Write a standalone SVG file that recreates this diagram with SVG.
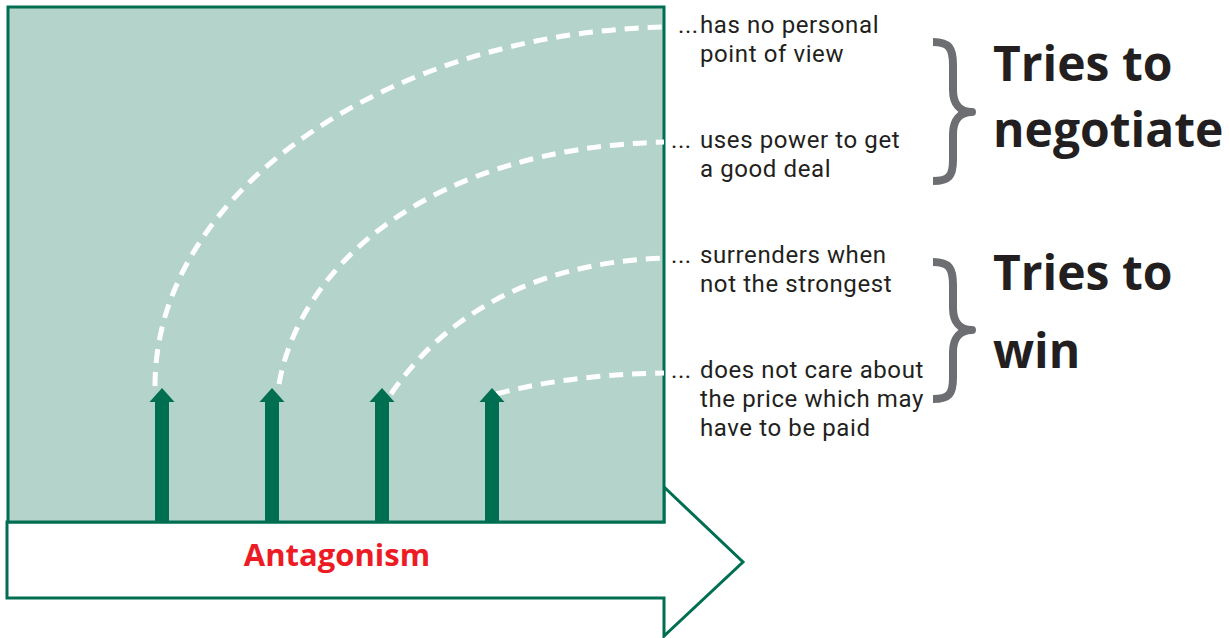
<svg xmlns="http://www.w3.org/2000/svg" width="1230" height="638" viewBox="0 0 1230 638">
  <defs>
    <style>
      .panel { fill: #b4d3ca; stroke: #006f51; stroke-width: 3; }
      .axis { fill: #ffffff; stroke: #006f51; stroke-width: 3; stroke-linejoin: miter; }
      .up { fill: #006f51; }
      .path { fill: none; stroke: #ffffff; stroke-width: 5; stroke-dasharray: 14 9; }
      .note { font-family: Roboto, "Liberation Sans", sans-serif; font-size: 24px; letter-spacing: 0.6px; fill: #231f20; }
      .big { font-family: "Open Sans", "Liberation Sans", sans-serif; font-size: 48px; font-weight: bold; fill: #231f20; }
      .brace { fill: none; stroke: #6d6e71; stroke-width: 8; stroke-linecap: butt; stroke-linejoin: round; }
      .label { font-family: "Open Sans", "Liberation Sans", sans-serif; font-size: 31px; font-weight: bold; fill: #ed1c24; }
    </style>
    <!-- vertical push arrow: shaft plus head, tip at origin -->
    <path id="upArrow" class="up" d="M-7,14 L-12.5,14 L0,0 L12.5,14 L7,14 L7,134 L-7,134 Z"/>
  </defs>

  <!-- horizontal axis arrow -->
  <g id="axis">
    <polygon class="axis" points="7,522 664,522 664,487 743,562 664,636 664,598 7,598"/>
    <text class="label" x="337" y="566" text-anchor="middle">Antagonism</text>
  </g>

  <!-- shaded field -->
  <g id="field">
    <rect class="panel" x="8" y="7" width="656" height="515"/>
  </g>

  <!-- dashed connectors from arrows to the statements -->
  <g id="connectors">
    <path class="path" d="M155,386 C155,190 390,33 664,27"/>
    <path class="path" d="M279,384 C300,265 430,148 664,142"/>
    <path class="path" d="M391,394 C440,322 525,263 664,258"/>
    <path class="path" d="M496,394 C540,382 600,374 664,373"/>
  </g>

  <g id="arrow1"><use href="#upArrow" x="162" y="388"/></g>
  <g id="arrow2"><use href="#upArrow" x="272" y="388"/></g>
  <g id="arrow3"><use href="#upArrow" x="382" y="388"/></g>
  <g id="arrow4"><use href="#upArrow" x="492" y="388"/></g>

  <g id="note1">
    <text class="note" x="678" y="33">...<tspan x="700">has no personal</tspan></text>
    <text class="note" x="700" y="62">point of view</text>
  </g>
  <g id="note2">
    <text class="note" x="671" y="148">... <tspan x="700">uses power to get</tspan></text>
    <text class="note" x="700" y="177">a good deal</text>
  </g>
  <g id="note3">
    <text class="note" x="671" y="263">... <tspan x="700">surrenders when</tspan></text>
    <text class="note" x="700" y="292">not the strongest</text>
  </g>
  <g id="note4">
    <text class="note" x="671" y="378">... <tspan x="700">does not care about</tspan></text>
    <text class="note" x="700" y="407">the price which may</text>
    <text class="note" x="700" y="436">have to be paid</text>
  </g>

  <g id="group-negotiate">
    <path class="brace" d="M933,42 C949,42 953,48 953,65 L953,90 C953,104 960,112 972,112 C960,112 953,120 953,134 L953,160 C953,176 949,181 933,181"/>
    <text class="big" x="993" y="81">Tries to</text>
    <text class="big" x="993" y="147">negotiate</text>
  </g>
  <g id="group-win">
    <path class="brace" d="M933,262 C949,262 953,268 953,285 L953,308 C953,322 960,330 972,330 C960,330 953,338 953,352 L953,378 C953,394 949,399 933,399"/>
    <text class="big" x="993" y="290">Tries to</text>
    <text class="big" x="993" y="368">win</text>
  </g>
</svg>
